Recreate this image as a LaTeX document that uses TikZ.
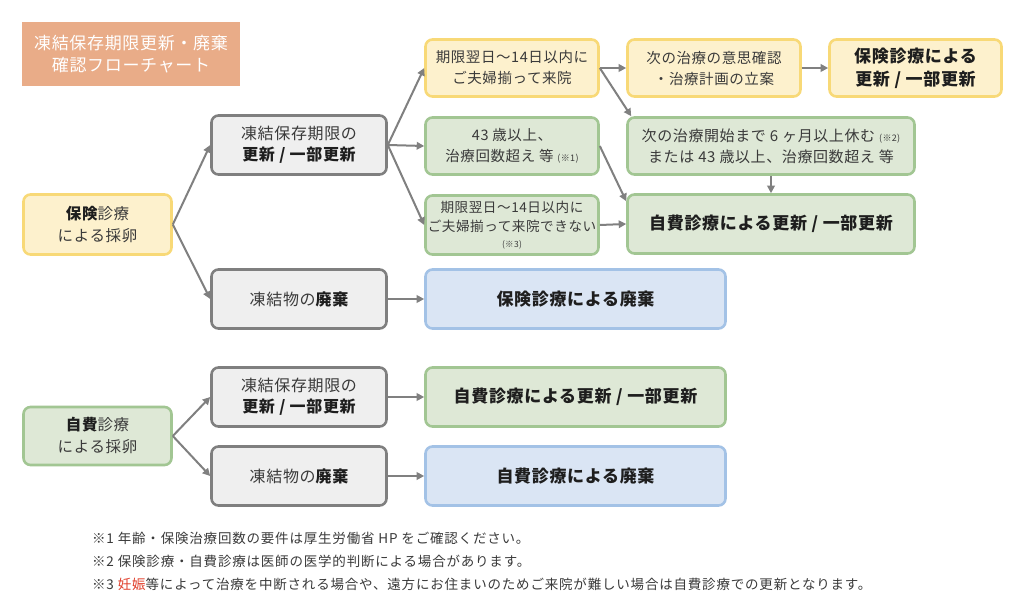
\documentclass[tikz,border=0pt]{standalone}
\usepackage{fontspec}
\setmainfont{Noto Sans CJK JP}[LetterSpace=4]
\usetikzlibrary{arrows.meta,calc}
\definecolor{yfill}{HTML}{FDF1CD}
\definecolor{yline}{HTML}{F8D977}
\definecolor{gfill}{HTML}{DEE8D6}
\definecolor{gline}{HTML}{A2C693}
\definecolor{kfill}{HTML}{EFEFEF}
\definecolor{kline}{HTML}{7F7F7F}
\definecolor{bfill}{HTML}{DAE5F4}
\definecolor{bline}{HTML}{A3C2E6}
\definecolor{tfill}{HTML}{E9AC88}
\definecolor{arrc}{HTML}{808080}
\definecolor{txt}{HTML}{3A3A3A}
\definecolor{btxt}{HTML}{1E1E1E}
\definecolor{redtxt}{HTML}{E03C28}
\begin{document}
\begin{tikzpicture}[x=1pt,y=-1pt,
  base/.style={rounded corners=7pt, line width=2.6pt, align=center, inner sep=0pt, text=txt, font=\fontsize{14.5}{21}\selectfont},
  ybox/.style={base, draw=yline, fill=yfill},
  gbox/.style={base, draw=gline, fill=gfill},
  kbox/.style={base, draw=kline, fill=kfill, font=\fontsize{16}{21}\selectfont},
  bbox/.style={base, draw=bline, fill=bfill},
  bigtxt/.style={text=btxt, font=\fontsize{17}{23}\selectfont\bfseries},
  starttxt/.style={font=\fontsize{15.5}{22}\selectfont},
  arr/.style={draw=arrc, line width=2pt, -{Triangle[length=7.5pt,width=7.5pt]}},
  note/.style={anchor=west, inner sep=0pt, text=txt, font=\fontsize{13.5}{16}\selectfont\addfontfeatures{LetterSpace=6}}
]
\useasboundingbox (0,0) rectangle (1024,609);
\fill[white] (0,0) rectangle (1024,609);

% title
\node[fill=tfill, minimum width=218pt, minimum height=64pt, inner sep=0pt, align=center, text=white,
  font=\fontsize{17}{22}\selectfont] (title) at (131,54) {凍結保存期限更新・廃棄\\確認フローチャート};

% left start nodes
\node[ybox, starttxt, minimum width=148pt, minimum height=60pt] (hoken) at (97.5,224.5) {{\bfseries\color{btxt}保険}診療\\による採卵};
\node[gbox, starttxt, minimum width=148pt, minimum height=58pt] (jihi) at (97.5,436) {{\bfseries\color{btxt}自費}診療\\による採卵};

% gray column
\node[kbox, minimum width=175pt, minimum height=59pt] (g1) at (299,145) {凍結保存期限の\\{\bfseries\color{btxt}更新 / 一部更新}};
\node[kbox, minimum width=175pt, minimum height=59pt] (g2) at (299,299) {凍結物の{\bfseries\color{btxt}廃棄}};
\node[kbox, minimum width=175pt, minimum height=59pt] (g3) at (299,397) {凍結保存期限の\\{\bfseries\color{btxt}更新 / 一部更新}};
\node[kbox, minimum width=175pt, minimum height=59pt] (g4) at (299,476) {凍結物の{\bfseries\color{btxt}廃棄}};

% top branch
\node[ybox, minimum width=173pt, minimum height=57pt] (y1) at (512,68) {期限翌日〜14日以内に\\ご夫婦揃って来院};
\node[ybox, minimum width=173pt, minimum height=57pt] (y2) at (714,68) {次の治療の意思確認\\・治療計画の立案};
\node[ybox, bigtxt, minimum width=172pt, minimum height=57pt] (y3) at (915.5,68) {保険診療による\\更新 / 一部更新};

\node[gbox, minimum width=173pt, minimum height=57pt] (gr1) at (512,146) {43 歳以上、\\治療回数超え 等 {\fontsize{9}{10}\selectfont(※1)}};
\node[gbox, minimum width=287pt, minimum height=57pt, font=\fontsize{15}{21}\selectfont] (gr2) at (771,146) {次の治療開始まで 6 ヶ月以上休む {\fontsize{9}{10}\selectfont(※2)}\\または 43 歳以上、治療回数超え 等};
\node[gbox, minimum width=173pt, minimum height=59pt, font=\fontsize{13.6}{19}\selectfont] (gr3) at (512,225) {期限翌日〜14日以内に\\ご夫婦揃って来院できない\\[-3pt]{\fontsize{8.5}{10}\selectfont(※3)}};
\node[gbox, bigtxt, minimum width=287pt, minimum height=59pt] (gr4) at (771,224) {自費診療による更新 / 一部更新};

\node[bbox, bigtxt, minimum width=300pt, minimum height=59pt] (b1) at (575.5,299) {保険診療による廃棄};
\node[gbox, bigtxt, minimum width=300pt, minimum height=59pt] (gr5) at (575.5,397) {自費診療による更新 / 一部更新};
\node[bbox, bigtxt, minimum width=300pt, minimum height=59pt] (b2) at (575.5,476) {自費診療による廃棄};

% arrows
\draw[arr] (hoken.east) -- (g1.west);
\draw[arr] (hoken.east) -- (g2.west);
\draw[arr] (g1.east) -- (y1.west);
\draw[arr] (g1.east) -- (gr1.west);
\draw[arr] (g1.east) -- (gr3.west);
\draw[arr] (y1.east) -- (y2.west);
\draw[arr] (y2.east) -- (y3.west);
\draw[arr] (y1.east) -- ($(gr2.north west)+(5,0)$);
\draw[arr] (gr1.east) -- ($(gr4.north west)+(0,8)$);
\draw[arr] (gr3.east) -- (gr4.west);
\draw[arr] (gr2.south) -- (gr4.north);
\draw[arr] (g2.east) -- (b1.west);
\draw[arr] (jihi.east) -- (g3.west);
\draw[arr] (jihi.east) -- (g4.west);
\draw[arr] (g3.east) -- (gr5.west);
\draw[arr] (g4.east) -- (b2.west);

% notes
\node[note] (n1) at (92,538) {※1 年齢・保険治療回数の要件は厚生労働省 HP をご確認ください。};
\node[note] (n2) at (92,561) {※2 保険診療・自費診療は医師の医学的判断による場合があります。};
\node[note] (n3) at (92,584) {※3 {\color{redtxt}妊娠}等によって治療を中断される場合や、遠方にお住まいのためご来院が難しい場合は自費診療での更新となります。};
\end{tikzpicture}
\end{document}
